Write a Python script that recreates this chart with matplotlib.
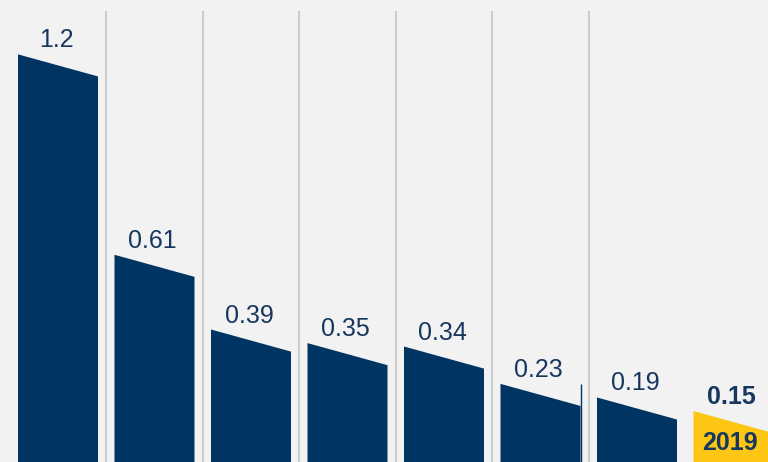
import matplotlib
matplotlib.use("Agg")
import matplotlib.pyplot as plt
from matplotlib.patches import Polygon

labels = ["1.2", "0.61", "0.39", "0.35", "0.34", "0.23", "0.19", "0.15"]
values = [1.2, 0.61, 0.39, 0.35, 0.34, 0.23, 0.19, 0.15]
highlight_label = "2019"

NAVY = "#003462"
YELLOW = "#FDC614"
TEXT = "#17375E"
BG = "#F2F2F2"
GRID = "#C4C4C4"

plt.rcParams['font.family'] = ['Liberation Sans', 'DejaVu Sans']

fig = plt.figure(figsize=(7.68, 4.62), dpi=100, facecolor=BG)
ax = fig.add_axes([0, 0, 1, 1])
ax.set_facecolor(BG)

step = 96.5
x0 = 58.0
ax.set_xlim(-x0 / step, (768 - x0) / step)
ax.set_ylim(0, 1.36)

width = 80 / step
slant = 0.065
n = len(values)

# separators between bars (not between last two)
for i in range(n - 2):
    ax.vlines(i + 0.5, 0, 1.328, color=GRID, lw=1.2, zorder=1)

for i, (v, lab) in enumerate(zip(values, labels)):
    last = i == n - 1
    color = YELLOW if last else NAVY
    xl, xr = i - width / 2, i + width / 2
    poly = Polygon([(xl, 0), (xl, v), (xr, v - slant), (xr, 0)],
                   closed=True, facecolor=color, edgecolor='none', zorder=2)
    ax.add_patch(poly)
    ax.annotate(lab, (i, v), xytext=(-2, 7), textcoords='offset pixels',
                ha='center', va='baseline', fontsize=18,
                fontweight='bold' if last else 'normal', color=TEXT, zorder=3)
    if last:
        ax.annotate(highlight_label, (i, 0), xytext=(-4, 12), textcoords='offset pixels',
                    ha='center', va='baseline', fontsize=18, fontweight='bold',
                    color=TEXT, zorder=3)

# thin edge line at the sixth bar's right side
ax.vlines(5 + width / 2, 0, values[5], color=NAVY, lw=1.0, zorder=2)

ax.axis('off')
fig.savefig("out.png", dpi=100, facecolor=BG)
